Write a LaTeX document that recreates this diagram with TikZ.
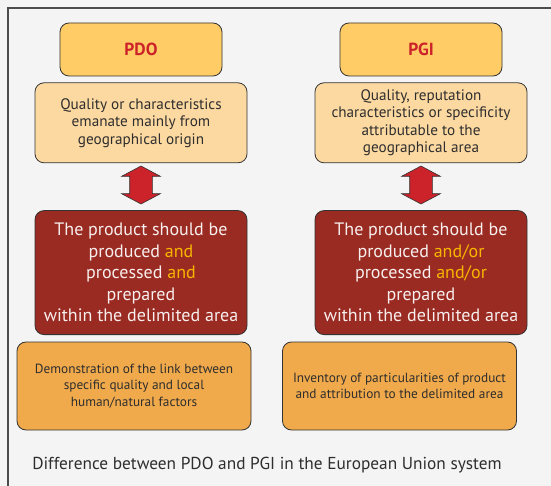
\documentclass[tikz,border=0pt]{standalone}
\usepackage{fontspec}
\setmainfont{PT Sans}
\usetikzlibrary{positioning,shapes.arrows}

\definecolor{pagebg}{HTML}{F4F4F4}
\definecolor{titlefill}{HTML}{FFCC66}
\definecolor{descfill}{HTML}{FDD9A2}
\definecolor{redfill}{HTML}{9A2B22}
\definecolor{lowfill}{HTML}{F1AA4B}
\definecolor{arrowred}{HTML}{CC2229}
\definecolor{andcol}{HTML}{F7B500}
\definecolor{txt}{HTML}{2E2E2E}

\newcommand{\hl}[1]{\textcolor{andcol}{#1}}

\begin{document}
\begin{tikzpicture}[x=1pt,y=-1pt,
  box/.style={draw=black!80,line width=0.8pt,rounded corners=9pt,align=center,inner sep=0pt,text=txt},
  titlebox/.style={box,fill=titlefill,minimum width=162pt,minimum height=53pt,font=\fontsize{17.5}{20}\selectfont\bfseries,text=arrowred},
  descbox/.style={box,fill=descfill,minimum width=212pt,minimum height=80pt,font=\fontsize{15.2}{17.5}\selectfont},
  redbox/.style={box,fill=redfill,minimum width=212pt,minimum height=124pt,font=\fontsize{18}{21.5}\selectfont,text=white!92!redfill},
  lowbox/.style={box,fill=lowfill,minimum width=234pt,minimum height=88pt,font=\fontsize{13.3}{16.5}\selectfont},
  link/.style={double arrow,draw=black!80,line width=0.6pt,fill=arrowred,shape border rotate=90,minimum height=38pt,double arrow head extend=8pt,double arrow tip angle=124,inner sep=11pt}]

\fill[pagebg] (0,0) rectangle (551,486);
\useasboundingbox (0,0) rectangle (551,486);
\draw[black!70,line width=1.5pt] (8,486) -- (8,8) -- (551,8);

% PDO column
\node[titlebox] (pdo) at (141,49.5) {PDO};
\node[descbox,below=6pt of pdo] (pdodesc) {Quality or characteristics\\emanate mainly from\\geographical origin};
\node[redbox,below=47pt of pdodesc] (pdoarea) {The product should be\\produced \hl{and}\\processed \hl{and}\\prepared\\within the delimited area};
\node[lowbox] (pdolink) at (134,386) {Demonstration of the link between\\specific quality and local\\human/natural factors};
\node[link] (pdoarrow) at (141,185) {};

% PGI column
\node[titlebox] (pgi) at (421,49.5) {PGI};
\node[descbox,below=6pt of pgi] (pgidesc) {Quality, reputation\\characteristics or specificity\\attributable to the\\geographical area};
\node[redbox,below=47pt of pgidesc] (pgiarea) {The product should be\\produced \hl{and/or}\\processed \hl{and/or}\\prepared\\within the delimited area};
\node[lowbox] (pgilink) at (399.5,386) {Inventory of particularities of product\\and attribution to the delimited area};
\node[link] (pgiarrow) at (421,185) {};

%caption
\node[font=\fontsize{17.3}{20}\selectfont,text=txt] (caption) at (267,465) {Difference between PDO and PGI in the European Union system};
\end{tikzpicture}
\end{document}
